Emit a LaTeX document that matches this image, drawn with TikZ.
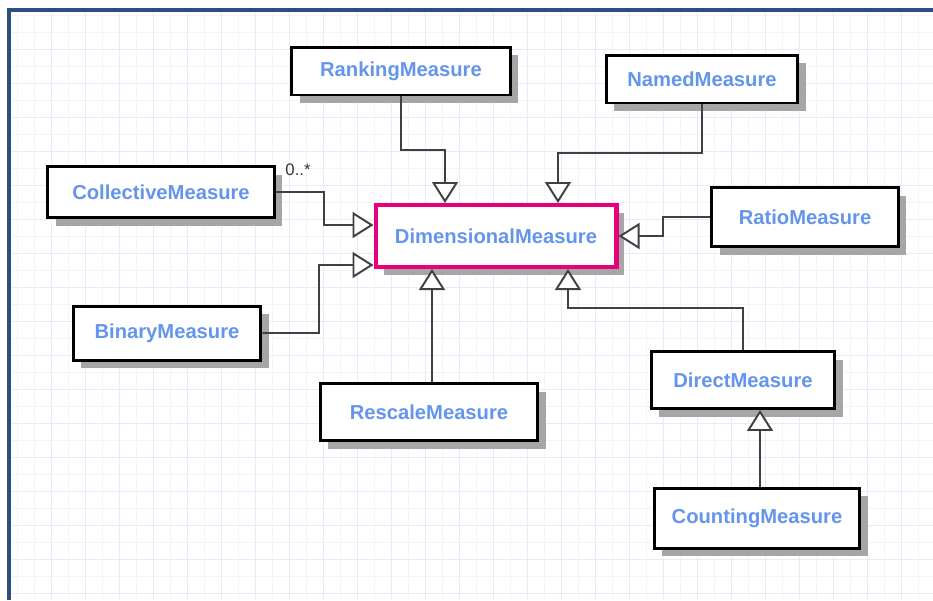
\documentclass[tikz,border=0pt]{standalone}
\usepackage{fontspec}
\setmainfont{Liberation Sans}
\usetikzlibrary{arrows.meta, shadows}
\definecolor{gridminor}{HTML}{F3F3FD}
\definecolor{gridmajor}{HTML}{E9E9FB}
\definecolor{frameblue}{HTML}{2C4E80}
\definecolor{classtext}{HTML}{6495ED}
\definecolor{corepink}{HTML}{E6007E}
\definecolor{linkgray}{HTML}{404040}
\tikzset{
  measure/.style = {rectangle, draw=black, line width=1.7pt, fill=white, text=classtext,
    font=\bfseries\fontsize{11.5}{13}\selectfont, align=center,
    drop shadow={shadow xshift=0.16cm, shadow yshift=-0.16cm, fill=black!35, opacity=1}},
  core/.style = {measure, draw=corepink, line width=2.3pt},
  inherit/.style = {draw=linkgray, line width=1.1pt,
    -{Triangle[fill=white, length=0.42cm, width=0.52cm, line width=1.1pt]}},
}

\begin{document}
\begin{tikzpicture}[x=0.02cm, y=-0.02cm]
    \useasboundingbox (0,0) rectangle (933,600);
    % paper grid
    \fill[white] (0,0) rectangle (933,600);
    \foreach \gx in {17,34,...,933} \draw[gridminor, line width=0.5pt] (\gx,10) -- (\gx,600);
    \foreach \gy in {15,32,...,600} \draw[gridminor, line width=0.5pt] (9,\gy) -- (933,\gy);
    \foreach \gx in {51,85,...,933} \draw[gridmajor, line width=0.5pt] (\gx,10) -- (\gx,600);
    \foreach \gy in {49,83,...,600} \draw[gridmajor, line width=0.5pt] (9,\gy) -- (933,\gy);
    \draw[frameblue, line width=2pt] (9,600) -- (9,10) -- (933,10);

    % classes
    \node (ranking) [measure, minimum width=4.38cm, minimum height=0.96cm] at (401,71) {RankingMeasure};
    \node (named) [measure, minimum width=3.84cm, minimum height=0.96cm] at (702,79) {NamedMeasure};
    \node (collective) [measure, minimum width=4.54cm, minimum height=1.02cm] at (161,192) {CollectiveMeasure};
    \node (dim) [core, minimum width=4.82cm, minimum height=1.24cm] at (496,236) {DimensionalMeasure};
    \node (ratio) [measure, minimum width=3.74cm, minimum height=1.18cm] at (805,217) {RatioMeasure};
    \node (binary) [measure, minimum width=3.76cm, minimum height=1.08cm] at (167,333) {BinaryMeasure};
    \node (rescale) [measure, minimum width=4.36cm, minimum height=1.14cm] at (429,412) {RescaleMeasure};
    \node (direct) [measure, minimum width=3.68cm, minimum height=1.14cm] at (743,380) {DirectMeasure};
    \node (counting) [measure, minimum width=4.12cm, minimum height=1.2cm] at (757,518) {CountingMeasure};
    \node (mult) [font=\fontsize{9.5}{10}\selectfont, text=black!80] at (298,170) {0..*};

    % generalisations
    \draw [inherit] (collective.east) -| (324,225) -- ([yshift=0.22cm]dim.west);
    \draw [inherit] (binary.east) -| (319,265) -- ([yshift=-0.58cm]dim.west);
    \draw [inherit] (ranking.south) -- (401,150) -| ([xshift=-1.02cm]dim.north);
    \draw [inherit] (named.south) -- (702,153) -| ([xshift=1.24cm]dim.north);
    \draw [inherit] (ratio.west) -| (663,236) -- (dim.east);
    \draw [inherit] ([xshift=0.06cm]rescale.north) -- ([xshift=0.06cm]rescale.north |- dim.south);
    \draw [inherit] (direct.north) -- (743,308) -| ([xshift=1.44cm]dim.south);
    \draw [inherit] ([xshift=0.06cm]counting.north) -- ([xshift=0.06cm]counting.north |- direct.south);
\end{tikzpicture}
\end{document}
